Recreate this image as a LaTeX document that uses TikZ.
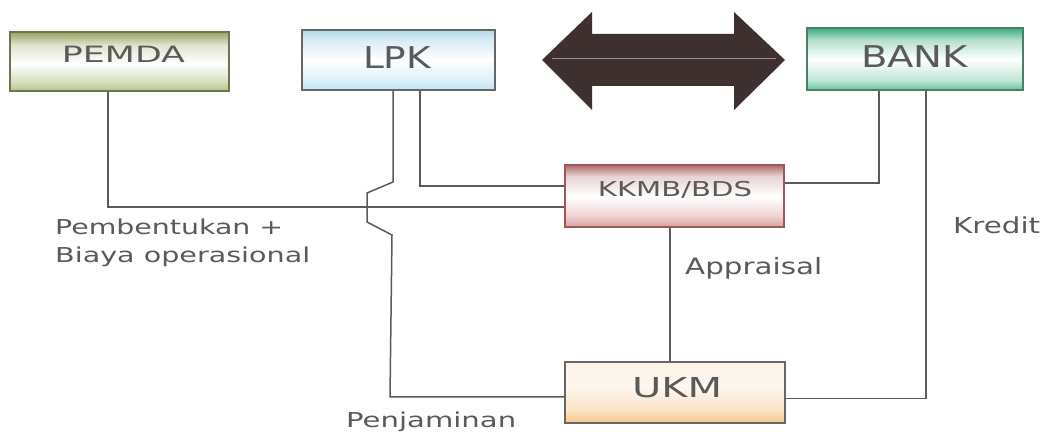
\documentclass[tikz,border=0pt]{standalone}
\usepackage{fontspec}
\setmainfont{DejaVu Sans}
\usepackage{graphicx}
\usetikzlibrary{calc}

% box colours
\definecolor{pemdaTop}{HTML}{97A45E}
\definecolor{pemdaBot}{HTML}{B3C689}
\definecolor{pemdaEdge}{HTML}{6E7550}
\definecolor{lpkTop}{HTML}{B6DAEA}
\definecolor{lpkBot}{HTML}{BFE3F2}
\definecolor{bankTop}{HTML}{3FAE82}
\definecolor{bankBot}{HTML}{5CC096}
\definecolor{bankEdge}{HTML}{4F7E68}
\definecolor{kkmbTop}{HTML}{B06A6A}
\definecolor{kkmbBot}{HTML}{DC9E9E}
\definecolor{kkmbEdge}{HTML}{9A5858}
\definecolor{ukmTop}{HTML}{FDF3E8}
\definecolor{ukmBot}{HTML}{F6C68E}
\definecolor{edgeGray}{HTML}{666666}
\definecolor{lineGray}{HTML}{5A5A5A}
\definecolor{txtGray}{HTML}{5A5A5A}
\definecolor{arrowDark}{HTML}{3D302E}

% vertical fills: 25bp is the lower edge of the box, 75bp the upper edge
\pgfdeclareverticalshading{pemdaShade}{100bp}{color(0bp)=(pemdaBot); color(25bp)=(pemdaBot);
  color(33bp)=(pemdaBot!55!white); color(48bp)=(white); color(64bp)=(pemdaTop!30!white);
  color(75bp)=(pemdaTop); color(100bp)=(pemdaTop)}
\pgfdeclareverticalshading{lpkShade}{100bp}{color(0bp)=(lpkBot); color(25bp)=(lpkBot);
  color(34bp)=(lpkBot!50!white); color(50bp)=(white); color(66bp)=(lpkTop!50!white);
  color(75bp)=(lpkTop); color(100bp)=(lpkTop)}
\pgfdeclareverticalshading{bankShade}{100bp}{color(0bp)=(bankBot); color(25bp)=(bankBot);
  color(33bp)=(bankBot!40!white); color(50bp)=(white); color(66bp)=(bankTop!40!white);
  color(75bp)=(bankTop); color(100bp)=(bankTop)}
\pgfdeclareverticalshading{kkmbShade}{100bp}{color(0bp)=(kkmbBot); color(25bp)=(kkmbBot);
  color(34bp)=(kkmbBot!45!white); color(50bp)=(white); color(66bp)=(kkmbTop!30!white);
  color(75bp)=(kkmbTop); color(100bp)=(kkmbTop)}
\pgfdeclareverticalshading{ukmShade}{100bp}{color(0bp)=(ukmBot); color(25bp)=(ukmBot);
  color(36bp)=(ukmBot!50!white); color(55bp)=(ukmTop!70!white);
  color(75bp)=(ukmTop); color(100bp)=(ukmTop)}

% stretch a text horizontally to a given width
\newcommand{\fitw}[2]{\resizebox{#1}{\height}{#2}}

\begin{document}
\begin{tikzpicture}[x=1pt,y=-1pt,
  boxnode/.style={draw=#1, line width=2pt, inner sep=0pt},
  conn/.style={draw=lineGray, line width=1.5pt, line join=miter},
  lbl/.style={text=txtGray, inner sep=0pt, anchor=base west},
  boxtxt/.style={text=txtGray, inner sep=0pt, anchor=base},
]
\useasboundingbox[fill=white] (0,0) rectangle (1045,435);

% boxes
\node[boxnode=pemdaEdge, shading=pemdaShade, minimum width=219pt, minimum height=59pt] (pemda) at (119.5,61.5) {};
\node[boxnode=edgeGray, shading=lpkShade, minimum width=193pt, minimum height=60pt] (lpk) at (398.5,60) {};
\node[boxnode=bankEdge, shading=bankShade, minimum width=216pt, minimum height=62pt] (bank) at (915,59.5) {};
\node[boxnode=kkmbEdge, shading=kkmbShade, minimum width=219pt, minimum height=62pt] (kkmb) at (674.5,196) {};
\node[boxnode=edgeGray, shading=ukmShade, minimum width=220pt, minimum height=61pt] (ukm) at (675,392.5) {};

% box captions
\node[boxtxt, font=\fontsize{22.5}{27}\selectfont] (pemdaText) at (123.5,63) {\fitw{123pt}{PEMDA}};
\node[boxtxt, font=\fontsize{30}{36}\selectfont] (lpkText) at (397,69) {\fitw{68pt}{LPK}};
\node[boxtxt, font=\fontsize{30}{36}\selectfont] (bankText) at (914.5,68) {\fitw{107pt}{BANK}};
\node[boxtxt, font=\fontsize{20.5}{25}\selectfont] (kkmbText) at (675,197) {\fitw{154pt}{KKMB/BDS}};
\node[boxtxt, font=\fontsize{27.5}{33}\selectfont] (ukmText) at (677,398) {\fitw{90pt}{UKM}};

% two-way arrow between LPK and BANK
\fill[arrowDark] (542,60) -- (592,12) -- (592,34) -- (734,34) -- (734,12) -- (785,60)
  -- (734,110) -- (734,86) -- (592,86) -- (592,110) -- cycle;
\draw[arrowDark!55!white, line width=0.8pt] (552,58.5) -- (776,58.5);

% connectors
\draw[conn] ([xshift=-11.5pt]pemda.south) |- ([yshift=-11pt]kkmb.west);
\draw[conn] ([xshift=21.5pt]lpk.south) |- ([yshift=10pt]kkmb.west);
\coordinate (jogA) at (393,182);
\coordinate (jogB) at (367,193);
\coordinate (jogC) at (367,222);
\coordinate (jogD) at (392,235);
\coordinate (penj) at (390,397);
\draw[conn] ([xshift=-5.5pt]lpk.south) -- (jogA) -- (jogB) -- (jogC) -- (jogD) -- (penj)
  -- (ukm.west |- penj);
\draw[conn] ([yshift=13pt]kkmb.east) -| ([xshift=-36pt]bank.south);
\draw[conn] ([xshift=11pt]bank.south) |- ([yshift=-6pt]ukm.east);
\draw[conn] ([xshift=-4.5pt]kkmb.south) -- ([xshift=-5pt]ukm.north);

% connector labels
\node[lbl, font=\fontsize{20.5}{25}\selectfont] (pembText) at (55,235) {\fitw{228pt}{Pembentukan +}};
\node[lbl, font=\fontsize{20.5}{25}\selectfont] (biayaText) at (55,263) {\fitw{255pt}{Biaya operasional}};
\node[lbl, font=\fontsize{22.5}{27}\selectfont] (apprText) at (685,275) {\fitw{137pt}{Appraisal}};
\node[lbl, font=\fontsize{22}{26}\selectfont] (kredText) at (953,234) {\fitw{87pt}{Kredit}};
\node[lbl, font=\fontsize{20.5}{25}\selectfont] (penjText) at (346,428) {\fitw{170pt}{Penjaminan}};
\end{tikzpicture}
\end{document}
